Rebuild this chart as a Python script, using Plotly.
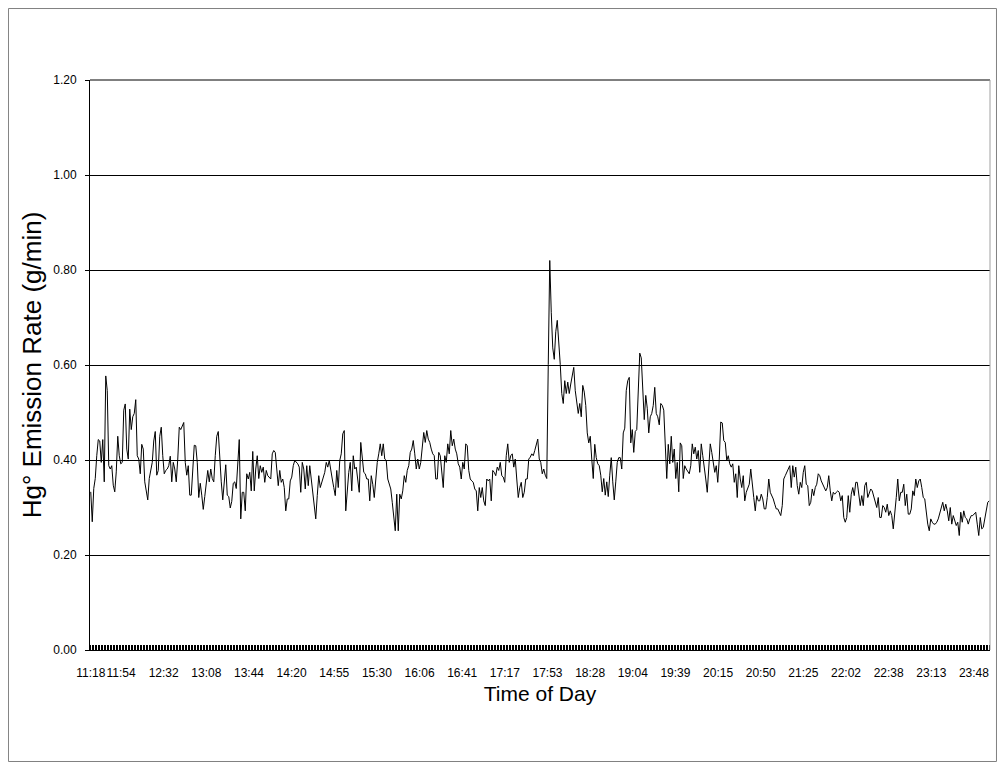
import plotly.graph_objects as go

# Hg0 emission rate (g/min), 100 samples per ~2 h block
seg_1118 = [0.333, 0.270, 0.340, 0.361, 0.409, 0.443, 0.440, 0.395, 0.443, 0.354,
            0.577, 0.546, 0.388, 0.381, 0.388, 0.347, 0.333, 0.375, 0.450, 0.409,
            0.392, 0.395, 0.505, 0.518, 0.423, 0.402, 0.507, 0.464, 0.491, 0.498,
            0.527, 0.409, 0.402, 0.371, 0.433, 0.423, 0.354, 0.337, 0.316, 0.361,
            0.375, 0.395, 0.440, 0.460, 0.368, 0.378, 0.450, 0.469, 0.409, 0.371,
            0.378, 0.381, 0.388, 0.408, 0.354, 0.395, 0.381, 0.354, 0.402, 0.469,
            0.464, 0.474, 0.479, 0.395, 0.368, 0.388, 0.326, 0.326, 0.368, 0.431,
            0.430, 0.395, 0.321, 0.351, 0.326, 0.296, 0.323, 0.354, 0.378, 0.354,
            0.381, 0.361, 0.354, 0.409, 0.450, 0.460, 0.395, 0.354, 0.316, 0.347,
            0.390, 0.326, 0.323, 0.299, 0.313, 0.351, 0.354, 0.340, 0.388, 0.443]
seg_1319 = [0.276, 0.332, 0.332, 0.293, 0.371, 0.360, 0.374, 0.335, 0.418, 0.335,
            0.381, 0.409, 0.361, 0.388, 0.374, 0.385, 0.353, 0.378, 0.367, 0.364,
            0.360, 0.413, 0.420, 0.416, 0.381, 0.346, 0.378, 0.353, 0.360, 0.342,
            0.293, 0.318, 0.318, 0.356, 0.364, 0.388, 0.399, 0.395, 0.392, 0.385,
            0.332, 0.395, 0.381, 0.339, 0.388, 0.346, 0.388, 0.360, 0.332, 0.297,
            0.276, 0.325, 0.367, 0.342, 0.353, 0.367, 0.374, 0.395, 0.385, 0.399,
            0.374, 0.360, 0.342, 0.325, 0.378, 0.342, 0.399, 0.413, 0.455, 0.462,
            0.293, 0.339, 0.374, 0.395, 0.335, 0.409, 0.381, 0.385, 0.353, 0.332,
            0.437, 0.395, 0.374, 0.371, 0.360, 0.360, 0.314, 0.367, 0.349, 0.321,
            0.364, 0.395, 0.413, 0.434, 0.409, 0.434, 0.402, 0.399, 0.360, 0.349]
seg_1520 = [0.339, 0.311, 0.276, 0.251, 0.328, 0.251, 0.328, 0.318, 0.335, 0.367,
            0.353, 0.378, 0.388, 0.416, 0.423, 0.441, 0.413, 0.381, 0.402, 0.381,
            0.395, 0.427, 0.458, 0.437, 0.462, 0.444, 0.437, 0.423, 0.413, 0.409,
            0.360, 0.360, 0.416, 0.409, 0.381, 0.342, 0.409, 0.395, 0.434, 0.413,
            0.462, 0.430, 0.444, 0.423, 0.413, 0.392, 0.385, 0.360, 0.395, 0.381,
            0.434, 0.430, 0.378, 0.360, 0.356, 0.353, 0.339, 0.335, 0.293, 0.342,
            0.321, 0.342, 0.314, 0.304, 0.360, 0.356, 0.360, 0.314, 0.378, 0.374,
            0.367, 0.385, 0.378, 0.395, 0.367, 0.364, 0.353, 0.409, 0.434, 0.395,
            0.409, 0.413, 0.385, 0.402, 0.360, 0.321, 0.342, 0.353, 0.321, 0.332,
            0.360, 0.360, 0.402, 0.406, 0.413, 0.409, 0.420, 0.430, 0.444, 0.402]
seg_1742 = [0.395, 0.371, 0.381, 0.368, 0.361, 0.601, 0.820, 0.711, 0.636, 0.612,
            0.670, 0.694, 0.656, 0.601, 0.540, 0.519, 0.567, 0.540, 0.564, 0.540,
            0.560, 0.574, 0.595, 0.546, 0.519, 0.498, 0.519, 0.491, 0.557, 0.543,
            0.515, 0.457, 0.436, 0.450, 0.402, 0.361, 0.433, 0.405, 0.392, 0.388,
            0.368, 0.333, 0.361, 0.326, 0.354, 0.323, 0.368, 0.405, 0.354, 0.316,
            0.354, 0.395, 0.405, 0.405, 0.381, 0.457, 0.467, 0.546, 0.567, 0.574,
            0.436, 0.464, 0.416, 0.460, 0.464, 0.546, 0.625, 0.615, 0.553, 0.485,
            0.536, 0.509, 0.457, 0.491, 0.498, 0.515, 0.553, 0.498, 0.491, 0.474,
            0.519, 0.515, 0.505, 0.423, 0.361, 0.433, 0.392, 0.450, 0.395, 0.423,
            0.361, 0.395, 0.333, 0.436, 0.430, 0.361, 0.388, 0.381, 0.375, 0.371]
seg_2002 = [0.388, 0.434, 0.413, 0.427, 0.402, 0.420, 0.374, 0.434, 0.409, 0.388,
            0.360, 0.332, 0.399, 0.434, 0.416, 0.395, 0.374, 0.388, 0.353, 0.402,
            0.480, 0.478, 0.441, 0.437, 0.399, 0.409, 0.392, 0.385, 0.392, 0.353,
            0.371, 0.321, 0.388, 0.360, 0.342, 0.367, 0.314, 0.332, 0.342, 0.349,
            0.381, 0.342, 0.321, 0.293, 0.325, 0.314, 0.314, 0.328, 0.318, 0.297,
            0.297, 0.321, 0.360, 0.332, 0.325, 0.318, 0.307, 0.297, 0.297, 0.290,
            0.283, 0.304, 0.360, 0.367, 0.374, 0.378, 0.388, 0.342, 0.388, 0.364,
            0.385, 0.346, 0.328, 0.353, 0.342, 0.374, 0.388, 0.349, 0.346, 0.304,
            0.311, 0.339, 0.325, 0.342, 0.349, 0.371, 0.367, 0.356, 0.349, 0.342,
            0.335, 0.342, 0.367, 0.335, 0.314, 0.332, 0.328, 0.332, 0.335, 0.332]
seg_2209 = [0.314, 0.325, 0.279, 0.269, 0.279, 0.325, 0.290, 0.328, 0.342, 0.325,
            0.353, 0.353, 0.328, 0.304, 0.325, 0.304, 0.346, 0.353, 0.321, 0.332,
            0.339, 0.335, 0.321, 0.307, 0.300, 0.321, 0.279, 0.279, 0.304, 0.300,
            0.290, 0.307, 0.283, 0.293, 0.283, 0.255, 0.283, 0.321, 0.360, 0.314,
            0.332, 0.332, 0.349, 0.304, 0.328, 0.286, 0.286, 0.297, 0.335, 0.325,
            0.360, 0.342, 0.356, 0.360, 0.342, 0.321, 0.318, 0.286, 0.265, 0.251,
            0.276, 0.269, 0.265, 0.265, 0.269, 0.276, 0.286, 0.297, 0.311, 0.293,
            0.307, 0.293, 0.272, 0.300, 0.265, 0.283, 0.272, 0.262, 0.269, 0.241,
            0.290, 0.269, 0.293, 0.279, 0.276, 0.265, 0.276, 0.283, 0.283, 0.286,
            0.290, 0.265, 0.241, 0.279, 0.255, 0.258, 0.276, 0.293, 0.311, 0.314]

hg_rate = seg_1118 + seg_1319 + seg_1520 + seg_1742 + seg_2002 + seg_2209
sample = list(range(len(hg_rate)))

time_labels = ["11:18", "11:54", "12:32", "13:08", "13:44", "14:20", "14:55",
               "15:30", "16:06", "16:41", "17:17", "17:53", "18:28", "19:04",
               "19:39", "20:15", "20:50", "21:25", "22:02", "22:38", "23:13", "23:48"]

# label positions along the sample axis
tick_pos = [0] + [20.2 + 28.43 * k for k in range(len(time_labels) - 1)]

font = "Liberation Sans, Arial, sans-serif"

fig = go.Figure(go.Scatter(
    x=sample, y=hg_rate, mode="lines",
    line=dict(color="black", width=1), showlegend=False,
))

# page body has an 8px margin, so the figure is sized to sit inside it
fig.update_layout(
    width=989, height=754,
    margin=dict(l=82, r=7, t=72, b=112),
    paper_bgcolor="white", plot_bgcolor="white",
    font=dict(family=font, color="black", size=12),
    xaxis=dict(
        range=[-0.5, len(hg_rate) - 0.5],
        tickmode="array", tickvals=tick_pos, ticktext=time_labels,
        tickangle=0, ticks="", ticklabelstandoff=12,
        showline=True, linecolor="black", linewidth=1,
        showgrid=False, zeroline=False,
        minor=dict(ticks="inside", ticklen=5, tickcolor="black", tickwidth=1,
                   tickmode="linear", tick0=0, dtick=1, showgrid=False),
        title=dict(text="Time of Day", font=dict(size=21), standoff=6),
    ),
    yaxis=dict(
        range=[0, 1.2], tickmode="linear", tick0=0, dtick=0.2, tickformat=".2f",
        ticks="outside", ticklen=4, tickcolor="black", ticklabelstandoff=6,
        showline=True, linecolor="black", linewidth=1,
        showgrid=True, gridcolor="black", gridwidth=1, zeroline=False,
        title=dict(text="Hg° Emission Rate (g/min)", font=dict(size=26), standoff=4),
    ),
    shapes=[
        dict(type="line", xref="paper", yref="paper", x0=0, x1=1, y0=1, y1=1,
             line=dict(color="black", width=1)),
        dict(type="line", xref="paper", yref="paper", x0=1, x1=1, y0=0, y1=1,
             line=dict(color="#a0a0a0", width=1)),
        dict(type="rect", xref="paper", yref="paper",
             x0=-0.0906, x1=1.0072, y0=-0.1956, y1=1.1254,
             line=dict(color="#808080", width=1)),
    ],
)

fig.write_html("out.html")
